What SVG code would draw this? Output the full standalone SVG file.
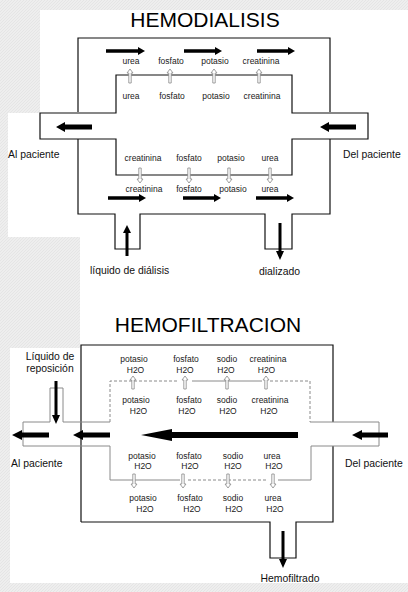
<svg xmlns="http://www.w3.org/2000/svg" width="408" height="592" viewBox="0 0 408 592">
<defs>
<style>
.wall{fill:none;stroke:#111;stroke-width:1.2}
.mem{fill:none;stroke:#8a8a8a;stroke-width:1}
.dash{stroke-dasharray:3 2}
.arr{fill:#000}
.hol{fill:#fff;stroke:#888;stroke-width:0.8}
.lbl{font-family:"Liberation Sans",Arial,sans-serif;font-size:8.5px;fill:#1a1a1a;text-anchor:middle}
.side{font-family:"Liberation Sans",Arial,sans-serif;font-size:10.4px;fill:#111}
.title{font-family:"Liberation Sans",Arial,sans-serif;font-size:21px;fill:#000;text-anchor:middle}
</style>
<pattern id="bgp" width="3" height="3" patternUnits="userSpaceOnUse">
<rect width="3" height="3" fill="#eeeeee"/>
<path d="M0,3 L3,0" stroke="#e2e2e2" stroke-width="0.8"/>
</pattern>
</defs>
<rect width="408" height="592" fill="url(#bgp)"/>
<path d="M40,10 H408 V583 H10 V348 H80 V237 H8 V113 H40 Z" fill="#fff"/>

<!-- HEMODIALISIS -->
<g id="hemodialisis">
<text class="title" x="205" y="26.5">HEMODIALISIS</text>
<g id="hd-dialysate">
<path class="wall" d="M78,112 V38 H330 V112"/>
<path class="wall" d="M78,139 V214 H115 V249 H140 V214 H265 V249 H292 V214 H330 V139"/>
</g>
<g id="hd-blood">
<path class="wall" d="M116,139 H40 V113 H116 V75 H292 V113 H368 V139 H292 V175 H116 Z"/>
</g>
<g id="hd-labels">
<text class="lbl" x="131" y="64">urea</text>
<text class="lbl" x="171" y="64">fosfato</text>
<text class="lbl" x="215" y="64">potasio</text>
<text class="lbl" x="261" y="64">creatinina</text>
<text class="lbl" x="131" y="99">urea</text>
<text class="lbl" x="172" y="99">fosfato</text>
<text class="lbl" x="216" y="99">potasio</text>
<text class="lbl" x="262" y="99">creatinina</text>
<text class="lbl" x="143" y="160.5">creatinina</text>
<text class="lbl" x="189" y="160.5">fosfato</text>
<text class="lbl" x="231" y="160.5">potasio</text>
<text class="lbl" x="270" y="160.5">urea</text>
<text class="lbl" x="144" y="192">creatinina</text>
<text class="lbl" x="189" y="192">fosfato</text>
<text class="lbl" x="233" y="192">potasio</text>
<text class="lbl" x="270" y="192">urea</text>
<text class="side" x="8" y="158">Al paciente</text>
<text class="side" x="343" y="158">Del paciente</text>
<text class="side" x="90" y="274">líquido de diálisis</text>
<text class="side" x="259" y="275">dializado</text>
</g>
</g>

<!-- HEMOFILTRACION -->
<g id="hemofiltracion">
<text class="title" x="208" y="332">HEMOFILTRACION</text>
<g id="hf-filtrate">
<path class="wall" d="M81,522 V345 H333 V422"/>
<path class="wall" d="M81,522 H270 V558 H296 V522 H333 V446"/>
</g>
<g id="hf-blood">
<path class="mem" d="M110,422 H63 V388 H50 V422 H23 V446 H110"/>
<path class="mem" d="M310,422 H379 V446 H311"/>
<path class="mem dash" d="M110,422 V381 H178"/>
<path class="mem" d="M192,381 H262"/>
<path class="mem dash" d="M270,381 H310 V422"/>
<path class="mem" d="M110,446 V480 H180"/>
<path class="mem dash" d="M188,480 H268"/>
<path class="mem" d="M278,480 H311 V446"/>
</g>
<g id="hf-labels">
<text class="lbl" x="134" y="362">potasio</text>
<text class="lbl" x="186" y="362">fosfato</text>
<text class="lbl" x="227" y="362">sodio</text>
<text class="lbl" x="268" y="362">creatinina</text>
<text class="lbl" x="135.5" y="373">H2O</text>
<text class="lbl" x="185" y="373">H2O</text>
<text class="lbl" x="226" y="373">H2O</text>
<text class="lbl" x="266.5" y="373">H2O</text>
<text class="lbl" x="136" y="403">potasio</text>
<text class="lbl" x="189" y="403">fosfato</text>
<text class="lbl" x="227" y="403">sodio</text>
<text class="lbl" x="270" y="403">creatinina</text>
<text class="lbl" x="138.5" y="413.5">H2O</text>
<text class="lbl" x="187" y="413.5">H2O</text>
<text class="lbl" x="228" y="413.5">H2O</text>
<text class="lbl" x="269" y="413.5">H2O</text>
<text class="lbl" x="142" y="459">potasio</text>
<text class="lbl" x="189" y="459">fosfato</text>
<text class="lbl" x="233" y="459">sodio</text>
<text class="lbl" x="272" y="459">urea</text>
<text class="lbl" x="143" y="469">H2O</text>
<text class="lbl" x="190" y="469">H2O</text>
<text class="lbl" x="233" y="469">H2O</text>
<text class="lbl" x="274" y="469">H2O</text>
<text class="lbl" x="143" y="501">potasio</text>
<text class="lbl" x="190" y="501">fosfato</text>
<text class="lbl" x="233" y="501">sodio</text>
<text class="lbl" x="273" y="501">urea</text>
<text class="lbl" x="145" y="512">H2O</text>
<text class="lbl" x="192" y="512">H2O</text>
<text class="lbl" x="234" y="512">H2O</text>
<text class="lbl" x="275" y="512">H2O</text>
<text class="side" x="50" y="360" text-anchor="middle">Líquido de</text>
<text class="side" x="50" y="372" text-anchor="middle">reposición</text>
<text class="side" x="11" y="467">Al paciente</text>
<text class="side" x="345" y="467">Del paciente</text>
<text class="side" x="290" y="582" text-anchor="middle">Hemofiltrado</text>
</g>
</g>

<!-- connectors / flow arrows -->
<g id="connectors">
<!-- hemodialysis dialysate flow -->
<path class="arr" d="M106,49.3 H138 V47 L145,51 L138,55 V52.7 H106 Z"/>
<path class="arr" d="M184,49.3 H215 V47 L222,51 L215,55 V52.7 H184 Z"/>
<path class="arr" d="M257,49.3 H288 V47 L295,51 L288,55 V52.7 H257 Z"/>
<path class="arr" d="M108,196.3 H139 V194 L146,198 L139,202 V199.7 H108 Z"/>
<path class="arr" d="M183,196.3 H214 V194 L221,198 L214,202 V199.7 H183 Z"/>
<path class="arr" d="M256,196.3 H287 V194 L294,198 L287,202 V199.7 H256 Z"/>
<!-- hemodialysis blood flow -->
<path class="arr" d="M92,124.5 H65 V122 L56,127 L65,132 V129.5 H92 Z"/>
<path class="arr" d="M356,124.5 H329 V122 L320,127 L329,132 V129.5 H356 Z"/>
<!-- ports -->
<path class="arr" d="M125.5,256 V233 H123 L127,225 L131,233 H128.5 V256 Z"/>
<path class="arr" d="M278.5,223 V251 H276 L280,260 L284,251 H281.5 V223 Z"/>
<!-- membrane transfer (hollow) -->
<path class="hol" d="M130,69 L133,73 H131.2 V83 H128.8 V73 H127 Z"/>
<path class="hol" d="M170,69 L173,73 H171.2 V83 H168.8 V73 H167 Z"/>
<path class="hol" d="M214,69 L217,73 H215.2 V83 H212.8 V73 H211 Z"/>
<path class="hol" d="M259,69 L262,73 H260.2 V83 H257.8 V73 H256 Z"/>
<path class="hol" d="M140,183 L143,179 H141.2 V168 H138.8 V179 H137 Z"/>
<path class="hol" d="M189,183 L192,179 H190.2 V168 H187.8 V179 H186 Z"/>
<path class="hol" d="M229,183 L232,179 H230.2 V168 H227.8 V179 H226 Z"/>
<path class="hol" d="M270,183 L273,179 H271.2 V168 H268.8 V179 H267 Z"/>
<!-- hemofiltration -->
<path class="hol" d="M133,376 L136,380 H134.2 V389 H131.8 V380 H130 Z"/>
<path class="hol" d="M185,376 L188,380 H186.2 V389 H183.8 V380 H182 Z"/>
<path class="hol" d="M227,376 L230,380 H228.2 V389 H225.8 V380 H224 Z"/>
<path class="hol" d="M266,376 L269,380 H267.2 V389 H264.8 V380 H263 Z"/>
<path class="hol" d="M134,488 L137,484 H135.2 V474 H132.8 V484 H131 Z"/>
<path class="hol" d="M183,488 L186,484 H184.2 V474 H181.8 V484 H180 Z"/>
<path class="hol" d="M228,488 L231,484 H229.2 V474 H226.8 V484 H225 Z"/>
<path class="hol" d="M273,488 L276,484 H274.2 V474 H271.8 V484 H270 Z"/>
<path class="arr" d="M49,432.5 H22 V430 L12,435 L22,440 V437.5 H49 Z"/>
<path class="arr" d="M110,432.5 H83 V430 L73,435 L83,440 V437.5 H110 Z"/>
<path class="arr" d="M298,432 H172 V429 L141,435 L172,441 V438 H298 Z"/>
<path class="arr" d="M388,432.5 H362 V430 L352,435 L362,440 V437.5 H388 Z"/>
<path class="arr" d="M54.5,381 V415 H52 L56,424 L60,415 H57.5 V381 Z"/>
<path class="arr" d="M281.5,531 V559 H279 L283,568 L287,559 H284.5 V531 Z"/>
</g>
</svg>
